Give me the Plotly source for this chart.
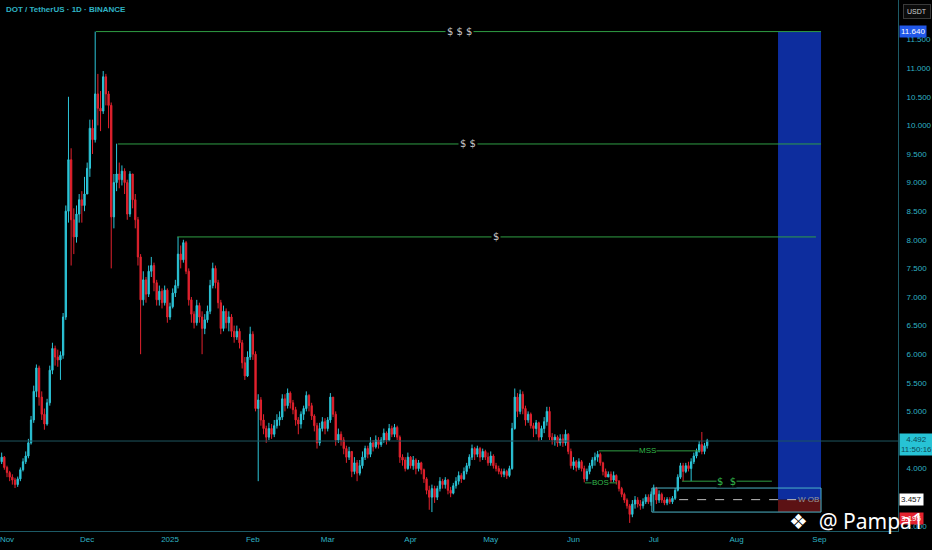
import pandas as pd
import plotly.graph_objects as go

# ---------------- data (DOT / USDT, daily, 2024-10-30 .. 2025-07-21) ----------------
start_date = "2024-10-30"
first_open = 4.12
closes = [
    4.20, 4.02, 3.93, 3.85, 3.80, 3.72, 3.82, 3.98, 4.12, 4.22,
    4.45, 4.85, 5.35, 5.76, 5.25, 4.95, 4.78, 5.15, 5.72, 6.10,
    5.95, 5.90, 5.98, 6.65, 8.50, 9.40, 8.35, 8.05, 8.45, 8.70,
    8.60, 8.80, 9.25, 9.95, 9.75, 10.55, 10.30, 10.25, 10.85, 10.55,
    10.35, 8.40, 9.00, 9.15, 9.05, 9.20, 9.00, 8.45, 9.15, 8.70,
    8.35, 7.70, 6.95, 7.30, 7.05, 7.45, 7.55, 7.25, 6.95, 7.10,
    6.90, 7.12, 6.65, 6.83, 7.07, 7.20, 7.75, 7.65, 7.95, 7.45,
    6.95, 6.70, 6.55, 6.85, 6.65, 6.45, 6.60, 6.75, 7.20, 7.50,
    7.25, 6.90, 6.45, 6.75, 6.55, 6.65, 6.40, 6.30, 6.40, 6.20,
    5.85, 5.62, 5.95, 6.35, 6.00, 5.05, 5.20, 4.85, 4.70, 4.55,
    4.70, 4.60, 4.75, 4.85, 4.90, 5.22, 5.10, 5.32, 5.15, 5.03,
    4.85, 4.78, 4.95, 5.05, 5.28, 5.10, 4.92, 4.75, 4.45, 4.70,
    4.82, 4.70, 4.85, 5.25, 4.95, 4.50, 4.60, 4.50, 4.35, 4.20,
    4.30, 3.95, 4.10, 3.92, 4.05, 4.20, 4.35, 4.25, 4.45, 4.38,
    4.50, 4.42, 4.50, 4.62, 4.50, 4.70, 4.60, 4.72, 4.55, 4.20,
    4.15, 4.00, 4.20, 4.05, 4.15, 4.00, 4.10, 3.98, 3.82, 3.62,
    3.50, 3.65, 3.50, 3.65, 3.78, 3.72, 3.80, 3.62, 3.57, 3.70,
    3.78, 3.88, 3.82, 3.95, 4.05, 4.20, 4.35, 4.25, 4.35, 4.20,
    4.30, 4.20, 4.10, 4.22, 4.05, 4.00, 3.95, 3.90, 3.95, 3.88,
    4.00, 4.70, 5.25, 5.00, 5.30, 5.05, 4.85, 4.95, 4.75, 4.70,
    4.80, 4.55, 4.70, 4.82, 5.00, 4.55, 4.50, 4.55, 4.45, 4.52,
    4.45, 4.60, 4.30, 4.05, 4.12, 4.02, 4.12, 4.00, 3.82, 3.95,
    4.05, 4.15, 4.20, 4.25, 4.10, 3.95, 3.85, 3.90, 3.80, 3.88,
    3.78, 3.65, 3.55, 3.45, 3.35, 3.20, 3.38, 3.45, 3.38, 3.35,
    3.42, 3.50, 3.42, 3.55, 3.65, 3.45, 3.55, 3.45, 3.40, 3.46,
    3.42, 3.48, 3.62, 3.85, 4.05, 3.95, 4.05, 4.00, 4.12, 4.22,
    4.30, 4.42, 4.30, 4.40, 4.49,
]
highs = [
    4.28, 4.22, 4.05, 3.96, 3.90, 3.84, 3.86, 4.02, 4.18, 4.30,
    4.52, 4.92, 5.45, 5.82, 5.80, 5.35, 5.05, 5.22, 5.80, 6.20,
    6.15, 6.08, 6.05, 6.72, 8.60, 10.50, 9.60, 8.55, 8.60, 8.80,
    8.85, 9.10, 9.35, 10.10, 10.10, 11.64, 10.90, 10.60, 10.95, 10.90,
    10.60, 10.40, 9.15, 9.68, 9.35, 9.30, 9.25, 9.05, 9.20, 9.15,
    8.80, 8.40, 7.75, 7.45, 7.35, 7.55, 7.70, 7.60, 7.30, 7.20,
    7.15, 7.20, 7.15, 6.90, 7.15, 7.30, 8.05, 7.90, 8.00, 7.98,
    7.50, 7.00, 6.75, 6.95, 6.90, 6.75, 6.70, 6.85, 7.30, 7.60,
    7.55, 7.30, 6.95, 6.85, 6.80, 6.75, 6.70, 6.50, 6.50, 6.45,
    6.25, 5.95, 6.05, 6.48, 6.40, 6.05, 5.30, 5.25, 4.95, 4.75,
    4.80, 4.78, 4.85, 4.95, 5.00, 5.30, 5.30, 5.40, 5.35, 5.20,
    5.08, 4.90, 5.00, 5.10, 5.35, 5.30, 5.15, 4.95, 4.80, 4.80,
    4.90, 4.88, 4.90, 5.32, 5.25, 5.00, 4.70, 4.65, 4.55, 4.40,
    4.38, 4.30, 4.20, 4.15, 4.15, 4.30, 4.40, 4.40, 4.55, 4.50,
    4.58, 4.55, 4.55, 4.70, 4.65, 4.78, 4.75, 4.78, 4.75, 4.58,
    4.25, 4.20, 4.28, 4.22, 4.22, 4.18, 4.15, 4.12, 4.00, 3.85,
    3.70, 3.72, 3.70, 3.70, 3.85, 3.82, 3.85, 3.82, 3.68, 3.75,
    3.85, 3.95, 3.92, 4.02, 4.10, 4.25, 4.42, 4.38, 4.40, 4.38,
    4.35, 4.33, 4.28, 4.30, 4.25, 4.10, 4.05, 4.00, 4.00, 3.98,
    4.05, 4.80, 5.40, 5.32, 5.38, 5.35, 5.10, 5.00, 4.98, 4.80,
    4.85, 4.82, 4.75, 4.90, 5.08, 5.08, 4.62, 4.60, 4.58, 4.60,
    4.60, 4.68, 4.62, 4.35, 4.20, 4.15, 4.18, 4.15, 4.05, 4.00,
    4.10, 4.20, 4.28, 4.31, 4.28, 4.12, 4.00, 3.95, 3.95, 3.95,
    3.90, 3.80, 3.68, 3.58, 3.48, 3.38, 3.45, 3.52, 3.50, 3.45,
    3.48, 3.55, 3.55, 3.60, 3.72, 3.68, 3.62, 3.58, 3.50, 3.50,
    3.50, 3.52, 3.66, 3.90, 4.10, 4.10, 4.10, 4.12, 4.18, 4.28,
    4.35, 4.48, 4.64, 4.45, 4.52,
]
lows = [
    4.08, 3.98, 3.85, 3.78, 3.72, 3.66, 3.68, 3.78, 3.95, 4.08,
    4.18, 4.42, 4.80, 5.25, 5.10, 4.85, 4.68, 4.75, 5.10, 5.65,
    5.80, 5.78, 5.55, 5.92, 6.60, 8.30, 7.55, 7.75, 7.95, 8.30,
    8.30, 8.50, 8.85, 9.10, 9.50, 9.70, 10.00, 9.90, 10.20, 10.35,
    9.95, 7.50, 8.20, 8.85, 8.90, 8.95, 8.80, 8.35, 8.40, 8.55,
    8.20, 7.55, 6.00, 6.85, 6.90, 7.00, 7.35, 7.10, 6.85, 6.85,
    6.80, 6.85, 6.55, 6.60, 6.80, 7.00, 7.15, 7.50, 7.60, 7.40,
    6.85, 6.55, 6.45, 6.50, 6.55, 6.00, 6.35, 6.55, 6.70, 7.15,
    7.15, 6.80, 6.35, 6.40, 6.45, 6.40, 6.30, 6.20, 6.25, 6.10,
    5.75, 5.55, 5.60, 5.90, 5.90, 5.00, 3.78, 4.75, 4.60, 4.45,
    4.50, 4.52, 4.55, 4.70, 4.75, 4.85, 5.00, 5.05, 5.05, 4.95,
    4.75, 4.60, 4.70, 4.85, 5.00, 5.00, 4.85, 4.65, 4.35, 4.40,
    4.65, 4.60, 4.65, 4.80, 4.90, 4.40, 4.45, 4.40, 4.25, 4.10,
    4.15, 3.85, 3.90, 3.78, 3.88, 4.00, 4.15, 4.18, 4.20, 4.30,
    4.35, 4.35, 4.38, 4.45, 4.42, 4.48, 4.55, 4.55, 4.50, 4.10,
    4.05, 3.95, 3.98, 4.00, 3.98, 3.90, 3.95, 3.90, 3.75, 3.55,
    3.28, 3.24, 3.40, 3.45, 3.60, 3.65, 3.65, 3.55, 3.50, 3.55,
    3.65, 3.72, 3.75, 3.80, 3.90, 4.00, 4.15, 4.15, 4.20, 4.12,
    4.15, 4.15, 4.05, 4.05, 4.00, 3.95, 3.90, 3.85, 3.85, 3.82,
    3.85, 3.98, 4.68, 4.90, 4.95, 4.95, 4.75, 4.80, 4.70, 4.55,
    4.60, 4.48, 4.50, 4.62, 4.75, 4.50, 4.42, 4.40, 4.38, 4.40,
    4.38, 4.40, 4.25, 4.00, 3.98, 3.95, 3.98, 3.95, 3.76, 3.78,
    3.90, 4.00, 4.05, 4.12, 4.05, 3.88, 3.80, 3.78, 3.75, 3.76,
    3.72, 3.60, 3.50, 3.40, 3.30, 3.05, 3.15, 3.30, 3.32, 3.28,
    3.30, 3.38, 3.38, 3.35, 3.25, 3.38, 3.40, 3.40, 3.36, 3.36,
    3.38, 3.38, 3.45, 3.60, 3.82, 3.78, 3.92, 3.95, 3.78, 4.08,
    4.18, 4.28, 4.25, 4.25, 4.35,
]
opens = [first_open] + closes[:-1]

month_ticks = ["2024-11-01", "2024-12-01", "2025-01-01", "2025-02-01", "2025-03-01",
               "2025-04-01", "2025-05-01", "2025-06-01", "2025-07-01", "2025-08-01",
               "2025-09-01"]
month_labels = ["Nov", "Dec", "2025", "Feb", "Mar", "Apr", "May", "Jun", "Jul", "Aug", "Sep"]
price_ticks = [3.0, 4.0, 5.0, 5.5, 6.0, 6.5, 7.0, 7.5, 8.0, 8.5, 9.0,
               9.5, 10.0, 10.5, 11.0, 11.5]

liq_levels = [11.64, 9.675, 8.05]
liq_labels = ["$ $ $", "$ $", "$"]
mss_level = 4.31
bos_level = 3.75
eq_level = 3.78
ob_top, ob_mid, ob_bot = 3.66, 3.457, 3.24
last_price = 4.492
low_label = 3.195

# ---------------- figure ----------------
dates = pd.date_range(start_date, periods=len(closes), freq="D")
base = pd.Timestamp("2024-11-01")


def dx(d):
    return base + pd.Timedelta(days=d)


FONT_N = "Liberation Sans Narrow, Liberation Sans, sans-serif"

fig = go.Figure()
fig.add_trace(go.Candlestick(
    x=dates, open=opens, high=highs, low=lows, close=closes,
    increasing=dict(line=dict(color="#2cc5d8", width=1), fillcolor="#2cc5d8"),
    decreasing=dict(line=dict(color="#e3222e", width=1), fillcolor="#e3222e"),
    whiskerwidth=0, showlegend=False, hoverinfo="skip",
))

GREEN = "#2f9e44"
shapes = []
annos = []

# blue target zone & red risk zone
shapes.append(dict(type="rect", xref="x", yref="y", x0=dx(288.5), x1=dx(304.6),
                   y0=ob_mid, y1=liq_levels[0], fillcolor="#0d2d9e", line=dict(width=0), layer="below"))
shapes.append(dict(type="rect", xref="x", yref="y", x0=dx(288.5), x1=dx(304.6),
                   y0=ob_bot, y1=ob_mid, fillcolor="#5c1214", line=dict(width=0), layer="below"))

# current price line
shapes.append(dict(type="line", xref="paper", yref="y", x0=0, x1=1, y0=4.482, y1=4.482,
                   line=dict(color="#1d5560", width=1)))

# liquidity lines
starts = [33.3, 41.5, 63.7]
ends = [304.6, 304.6, 302.7]
label_pos = [169.5, 172.5, 183.0]
for lvl, s, e, lab, lp in zip(liq_levels, starts, ends, liq_labels, label_pos):
    shapes.append(dict(type="line", xref="x", yref="y", x0=dx(s), x1=dx(e), y0=lvl, y1=lvl,
                       line=dict(color=GREEN, width=1)))
    annos.append(dict(x=dx(lp), y=lvl, xref="x", yref="y", text=lab, showarrow=False,
                      font=dict(color="#c8c8c8", size=10, family="DejaVu Sans"),
                      bgcolor="#000000", borderpad=1))

# MSS / BOS / equal lows
shapes.append(dict(type="line", xref="x", yref="y", x0=dx(221.5), x1=dx(259.3), y0=mss_level,
                   y1=mss_level, line=dict(color=GREEN, width=1)))
annos.append(dict(x=dx(239.8), y=mss_level, xref="x", yref="y", text="MSS", showarrow=False,
                  font=dict(color="#31b84a", size=8, family=FONT_N),
                  bgcolor="#000000", borderpad=0))
shapes.append(dict(type="line", xref="x", yref="y", x0=dx(216.3), x1=dx(228.2), y0=bos_level,
                   y1=bos_level, line=dict(color=GREEN, width=1)))
annos.append(dict(x=dx(222.2), y=bos_level, xref="x", yref="y", text="BOS", showarrow=False,
                  font=dict(color="#31b84a", size=8, family=FONT_N),
                  bgcolor="#000000", borderpad=0))
shapes.append(dict(type="line", xref="x", yref="y", x0=dx(252.6), x1=dx(286.2), y0=eq_level,
                   y1=eq_level, line=dict(color=GREEN, width=1)))
annos.append(dict(x=dx(269.4), y=eq_level, xref="x", yref="y", text="$  $", showarrow=False,
                  font=dict(color="#31b84a", size=10, family="DejaVu Sans"),
                  bgcolor="#000000", borderpad=0))

# order block box
shapes.append(dict(type="rect", xref="x", yref="y", x0=dx(241.3), x1=dx(304.6), y0=ob_bot,
                   y1=ob_top, line=dict(color="#4cb3c6", width=1)))
shapes.append(dict(type="line", xref="x", yref="y", x0=dx(251.5), x1=dx(296.0), y0=ob_mid,
                   y1=ob_mid, line=dict(color="#bfbfbf", width=1, dash="dash")))
annos.append(dict(x=dx(299.8), y=ob_mid, xref="x", yref="y", text="W OB", showarrow=False,
                  font=dict(color="#9a9a9a", size=8, family=FONT_N)))


# right-side price labels
def price_label(val, text, bg, fg):
    annos.append(dict(x=1, xref="paper", xanchor="left", xshift=1, y=val, yref="y",
                      text=text, showarrow=False, bgcolor=bg, borderpad=1,
                      font=dict(color=fg, size=8, family=FONT_N)))


price_label(liq_levels[0], "11.640", "#2157e8", "#ffffff")
price_label(last_price - 0.07, "4.492<br>11:50:16", "#27c3d5", "#0c4a55")
price_label(ob_mid, "3.457", "#ffffff", "#111111")
price_label(3.13, "3.195", "#e3222e", "#ffffff")

# title
annos.append(dict(x=0.004, y=0.983, xref="paper", yref="paper", xanchor="left", yanchor="middle",
                  text="<b>DOT / TetherUS · 1D · BINANCE</b>", showarrow=False,
                  font=dict(color="#2fb3c4", size=8, family=FONT_N)))
# currency button
annos.append(dict(x=1, y=0.978, xref="paper", yref="paper", xanchor="left", yanchor="middle", xshift=5,
                  text="USDT", showarrow=False, bordercolor="#3a3a3a", borderwidth=1, borderpad=3,
                  bgcolor="#0b0b0b", font=dict(color="#d0d0d0", size=7, family=FONT_N)))
# watermark
annos.append(dict(x=1, xref="paper", xanchor="right", xshift=28, y=0, yref="paper", yanchor="middle",
                  yshift=10, text="❖  @ Pampa1", showarrow=False,
                  font=dict(color="#ffffff", size=21, family="Noto Sans, DejaVu Sans")))

fig.update_layout(
    width=932, height=550,
    margin=dict(l=0, r=34, t=0, b=19),
    paper_bgcolor="#000000", plot_bgcolor="#000000",
    shapes=shapes, annotations=annos,
    xaxis=dict(type="date", range=[dx(-2.62), dx(333.4)], rangeslider=dict(visible=False),
               showgrid=False, zeroline=False, showline=True, linecolor="#1d5a66", linewidth=1,
               tickvals=month_ticks, ticktext=month_labels, ticks="", ticklabeloverflow="allow",
               tickfont=dict(color="#2fb3c4", size=8, family=FONT_N)),
    yaxis=dict(side="right", range=[2.909, 12.192], showgrid=False, zeroline=False,
               showline=True, linecolor="#1d5a66", linewidth=1, tickvals=price_ticks,
               tickformat=".3f", ticks="", ticklabelstandoff=6,
               tickfont=dict(color="#2fb3c4", size=8, family=FONT_N)),
    hovermode=False,
)

fig.write_html("out.html", config={"displayModeBar": False},
               post_script="document.body.style.margin='0';document.body.style.background='#000';")
